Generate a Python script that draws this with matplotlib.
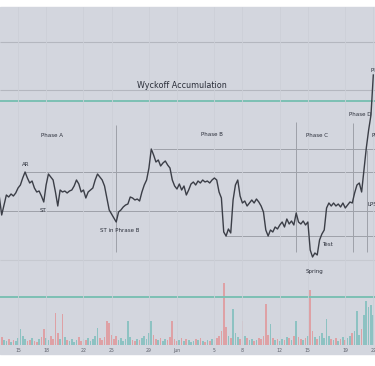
import matplotlib
matplotlib.use("Agg")
import matplotlib.pyplot as plt
from matplotlib.patches import Rectangle
import pandas as pd

# 6-hourly closes (arbitrary price units)
close = [
    169, 151, 161, 171, 169, 172, 170, 173, 178, 181,
    188, 194, 188, 183, 185, 178, 174, 175, 170, 164,
    181, 192, 189, 186, 174, 160, 176, 174, 175, 173,
    175, 176, 180, 186, 182, 174, 176, 168, 174, 176,
    178, 186, 192, 189, 186, 180, 168, 156, 152, 148,
    144, 154, 156, 159, 161, 162, 169, 168, 166, 167,
    165, 174, 181, 186, 198, 217, 211, 204, 206, 200,
    203, 205, 201, 198, 186, 180, 177, 182, 176, 180,
    171, 176, 182, 184, 181, 185, 183, 186, 184, 185,
    183, 186, 188, 186, 174, 168, 134, 130, 137, 133,
    166, 181, 186, 170, 163, 165, 160, 163, 166, 163,
    167, 164, 160, 154, 136, 130, 136, 134, 139, 137,
    141, 144, 139, 147, 142, 145, 141, 153, 144, 142,
    145, 141, 144, 116, 109, 113, 111, 126, 132, 136,
    158, 163, 160, 163, 160, 162, 159, 163, 158, 161,
    164, 163, 173, 181, 183, 174, 196, 218, 236, 251,
    291,
]

volume = [
    36, 8, 5, 4, 6, 3, 5, 4, 7, 16,
    9, 6, 4, 5, 7, 4, 3, 6, 8, 16,
    7, 5, 9, 6, 32, 12, 6, 31, 8, 5,
    4, 6, 3, 5, 8, 4, 6, 5, 7, 4,
    6, 9, 17, 7, 5, 8, 24, 22, 10, 6,
    9, 5, 7, 4, 6, 24, 8, 5, 4, 6,
    5, 7, 9, 6, 12, 24, 10, 6, 5, 7,
    4, 6, 5, 8, 24, 6, 4, 5, 7, 4,
    6, 5, 3, 4, 6, 5, 7, 4, 3, 5,
    4, 6, 5, 7, 9, 14, 62, 18, 9, 7,
    36, 12, 8, 6, 24, 9, 7, 5, 6, 4,
    5, 7, 6, 9, 41, 10, 21, 7, 5, 6,
    4, 6, 5, 8, 7, 5, 9, 24, 8, 6,
    5, 7, 9, 55, 14, 8, 6, 9, 12, 7,
    26, 9, 6, 5, 7, 4, 6, 8, 5, 7,
    9, 12, 14, 34, 10, 16, 30, 44, 38, 40,
    30,
]

times = pd.date_range("2023-05-13 00:00", periods=len(close), freq="6h")

tick_dates = ["2023-05-15", "2023-05-18", "2023-05-22", "2023-05-25", "2023-05-29",
              "2023-06-01", "2023-06-05", "2023-06-08", "2023-06-12", "2023-06-15",
              "2023-06-19", "2023-06-22"]
tick_labels = ["15", "18", "22", "25", "29", "Jun", "5", "8", "12", "15", "19", "22"]

# horizontal levels: (price, start time or None, kind)
levels = [
    (324, None, "grid"),
    (276, None, "grid"),
    (265, None, "teal"),
    (217, "2023-05-29 10:00", "range"),
    (194, "2023-05-15 18:00", "range"),
    (155, None, "range"),
    (130, "2023-06-06 03:00", "range"),
    (106, None, "faint"),
    (69, None, "teal"),
]
# phase separators: (time, low, high)
separators = [
    ("2023-05-25 11:30", 114, 241),
    ("2023-06-13 17:30", 114, 244),
    ("2023-06-19 19:40", 114, 243),
    ("2023-06-21 07:40", 114, 216),
]

labels = [
    ("Phase A", 52, 135, "center"), ("Phase B", 212, 134, "center"),
    ("Phase C", 317, 135, "center"), ("Phase D", 360, 115, "center"),
    ("AR", 26, 164, "center"), ("ST", 43, 210, "center"),
    ("ST in Phrase B", 120, 231, "center"), ("Test", 327, 245, "center"),
    ("Spring", 315, 272, "center"), ("LPS", 367, 205, "left"),
    ("Phase E", 371, 71, "left"), ("PS", 371, 136, "left"),
]

BG = "#d3d6de"
W, H = 375, 366
fig = plt.figure(figsize=(W / 100, H / 100), dpi=100)
fig.patch.set_facecolor("white")
fig.patches.append(Rectangle((0, (H - 354) / H), 1, (354 - 7) / H,
                             transform=fig.transFigure, color=BG, zorder=-10))

bottom = (H - 345) / H
ax = fig.add_axes([0, bottom, 1, (345 - 7) / H])
axv = fig.add_axes([0, bottom, 1, 65 / H], sharex=ax)
axv.set_zorder(1)
ax.set_zorder(2)
for a in (ax, axv):
    a.patch.set_alpha(0)
    for s in a.spines.values():
        s.set_visible(False)

# volume bars, coloured by direction of the close
colors = []
for i, c in enumerate(close):
    up = i == 0 or c >= close[i - 1]
    colors.append("#26a69a" if up else "#ef5350")
axv.bar(times, volume, width=0.18, color=colors, alpha=0.4, linewidth=0)
axv.set_ylim(0, 65)
axv.set_yticks([])
axv.tick_params(axis="x", bottom=False, labelbottom=False)

# levels
xmin = pd.Timestamp("2023-05-13 01:40")
xmax = pd.Timestamp("2023-06-22 04:20")
styles = {"grid": ("#b4b7bf", 0.8), "teal": ("#7cc0b3", 1.4),
          "range": ("#9ea1a9", 0.7), "faint": ("#c6c9d0", 0.8)}
for p, start, kind in levels:
    col, lw = styles[kind]
    x0 = pd.Timestamp(start) if start else xmin
    ax.hlines(p, x0, xmax, color=col, linewidth=lw, zorder=1)
for t, lo, hi in separators:
    ax.vlines(pd.Timestamp(t), lo, hi, color="#9ea1a9", linewidth=0.7, zorder=1)

ax.plot(times, close, color="#3b3e47", linewidth=1.0, zorder=3)

ax.set_xlim(xmin, xmax)
ax.set_ylim(21, 359)
ax.set_yticks([])
ax.set_xticks([pd.Timestamp(d) for d in tick_dates])
ax.set_xticklabels(tick_labels)
ax.tick_params(axis="x", length=0, pad=2.5, labelsize=3.3, labelcolor="#5d606b")
ax.grid(axis="x", color="#cdd0d8", linewidth=0.6)

ax.text(182 / W, (345 - 85) / 338, "Wyckoff Accumulation", transform=ax.transAxes,
        ha="center", va="center", fontsize=5.8, color="#2a2e39")
for txt, x, y, ha in labels:
    ax.text(x / W, (345 - y) / 338, txt, transform=ax.transAxes, ha=ha,
            va="center", fontsize=4.0, color="#2a2e39", clip_on=False)

fig.savefig("out.png", dpi=100)
